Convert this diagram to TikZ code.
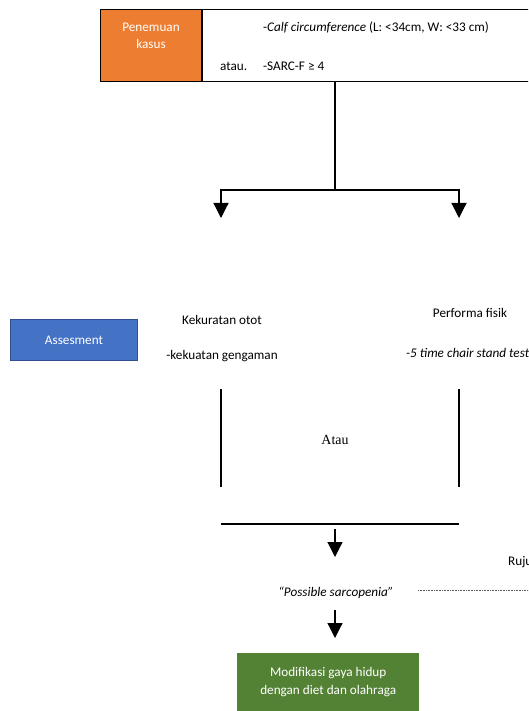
\documentclass[tikz,border=0pt]{standalone}
\usepackage{fontspec}
\setmainfont{Carlito}
\newfontfamily\atauserif{Liberation Serif}
\usetikzlibrary{arrows.meta}
\definecolor{kasusorange}{HTML}{ED7D31}
\definecolor{assesblue}{HTML}{4472C4}
\definecolor{assesedge}{HTML}{2F528F}
\definecolor{modgreen}{HTML}{548235}

\begin{document}
\begin{tikzpicture}[
  x=1pt,
  y=-1pt,
  every node/.style={
    font=\fontsize{13.2}{17.5}\selectfont,
    inner sep=0pt
  },
  flow line/.style={
    draw,
    line width=1.2pt
  },
  flow arrow/.style={
    flow line,
    -{Triangle[length=15pt,width=15pt]}
  },
  label text/.style={
    anchor=base
  },
  white text/.style={
    label text,
    text=white
  },
  color box/.style={
    text=white,
    align=center
  },
  rujuk line/.style={
    draw,
    gray!70!black,
    line width=0.6pt,
    dash pattern=on 0.8pt off 0.8pt
  },
]
\path[use as bounding box] (0,0) rectangle (528,711);
\clip (0,0) rectangle (528,711);

\node[fill=kasusorange, draw, line width=1.2pt, minimum width=101pt,
  minimum height=72pt, anchor=north west] (kasus) at (100,9) {};
\node[white text] (penemuan) at (151,32) {Penemuan};
\node[white text] (kasustext) at (151,49) {kasus};
\node[draw, line width=1.2pt, minimum width=420pt, minimum height=72pt,
  anchor=north west] (skrining) at (kasus.north east) {};
\node[label text, anchor=base west] (calf) at (263,32)
  {-\textit{Calf circumference} (L: <34cm, W: <33 cm)};
\node[label text, anchor=base west] (atau) at (220,71) {atau.};
\node[label text, anchor=base west] (sarcf) at (263,71) {-SARC-F ≥ 4};

\coordinate (split) at (335,190);
\coordinate (otot end) at (221,218);
\coordinate (fisik end) at (459,218);
\draw[flow line] (skrining.south -| split) -- (split);
\draw[flow arrow] (split) -| (otot end);
\draw[flow arrow] (split) -| (fisik end);

\node[fill=assesblue, draw=assesedge, line width=1.5pt, color box,
  minimum width=127pt, minimum height=41pt] (assesment) at (74,340) {Assesment};

\node[label text] (otot) at (222,324) {Kekuratan otot};
\node[label text] (gengaman) at (222,359) {-kekuatan gengaman};
\node[label text] (fisik) at (470,317) {Performa fisik};
\node[label text, anchor=base west] (chair) at (406,357) {\textit{-5 time chair stand test}};

\coordinate (otot top) at (221,389);
\coordinate (otot bottom) at (221,487);
\coordinate (fisik top) at (459,389);
\coordinate (fisik bottom) at (459,487);
\draw[flow line] (otot top) -- (otot bottom);
\draw[flow line] (fisik top) -- (fisik bottom);
\node[label text, font=\atauserif\fontsize{13.9}{16}\selectfont] (atau2) at (335,444) {Atau};

\coordinate (merge left) at (221,524);
\coordinate (merge right) at (459,524);
\draw[flow line] (merge left) -- (merge right);

\node[label text] (possible) at (336,596) {\textit{“Possible sarcopenia”}};
\coordinate (possible in) at (335,529);
\coordinate (possible arrow) at (335,557);
\draw[flow arrow] (possible in) -- (possible arrow);

\node[label text, anchor=base west] (rujuk) at (508,565) {Rujuk};
\coordinate (rujuk start) at (418,590);
\coordinate (rujuk end) at (540,590);
\draw[rujuk line] (rujuk start) -- (rujuk end);

\node[fill=modgreen, color box, minimum width=182pt, minimum height=58pt,
  anchor=north west] (modifikasi) at (237,653)
  {Modifikasi gaya hidup\\dengan diet dan olahraga};
\coordinate (mod in) at (335,610);
\draw[flow arrow] (mod in) -- (mod in |- 0,638);
\end{tikzpicture}
\end{document}
